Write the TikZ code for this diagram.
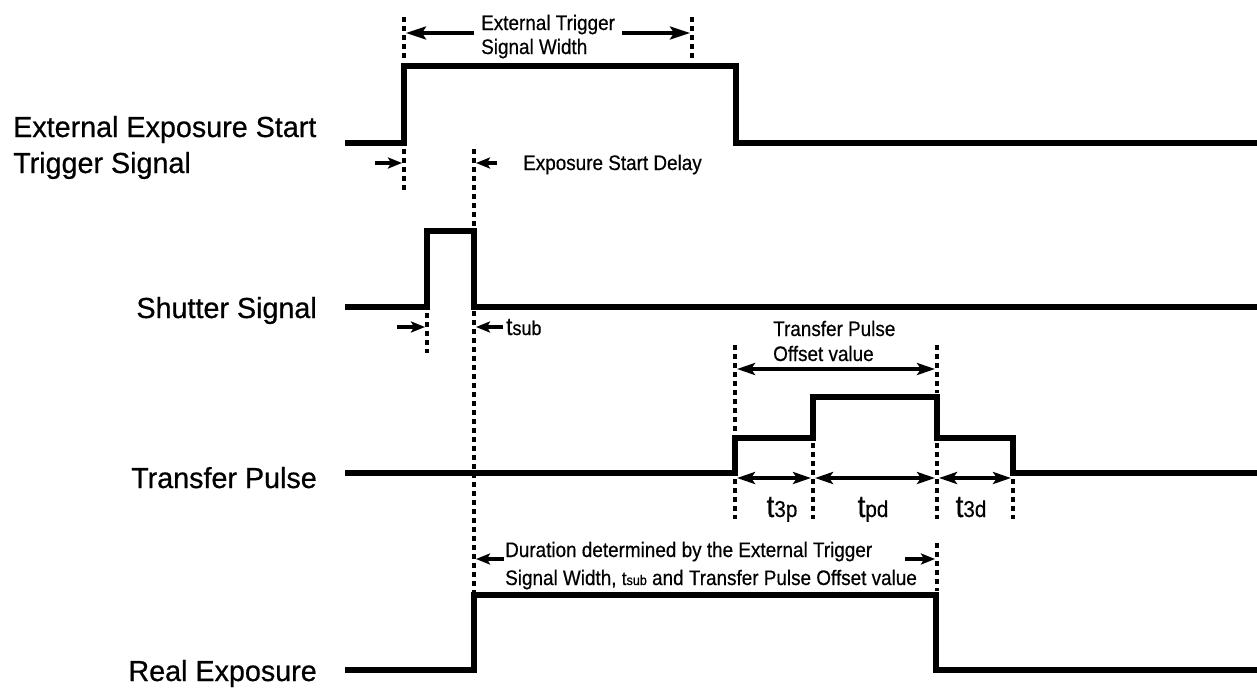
\documentclass[tikz,border=0pt]{standalone}
\usepackage{fontspec}
\setmainfont{Liberation Sans}[FakeStretch=0.9,FakeBold=0.5]
\newfontfamily\labfont{Liberation Sans}[FakeStretch=0.99,FakeBold=0.6]
\usetikzlibrary{arrows.meta}
\begin{document}
\begin{tikzpicture}[x=1pt,y=-1pt,
  sig/.style={line width=6.5pt, line join=miter, line cap=butt},
  dots/.style={line width=4pt, dash pattern=on 4.5pt off 4.5pt},
  arr/.style={line width=3.5pt, -{Stealth[length=20pt,width=13pt,inset=4pt]}},
  darr/.style={line width=3.5pt, {Stealth[length=18pt,width=12pt,inset=4pt]}-{Stealth[length=18pt,width=12pt,inset=4pt]}},
  sarr/.style={line width=3.5pt, -{Stealth[length=14pt,width=11pt,inset=3pt]}},
  big/.style={font=\labfont\fontsize{29}{36}\selectfont, inner sep=0pt},
  small/.style={font=\fontsize{21}{24}\selectfont, inner sep=0pt},
  tlab/.style={font=\fontsize{31}{31}\selectfont, inner sep=0pt},
]
\useasboundingbox (0,0) rectangle (1257,688);
% waveforms
\draw[sig] (345,143) -- (404,143) -- (404,66) -- (736,66) -- (736,143) -- (1257,143);
\draw[sig] (345,307) -- (427,307) -- (427,231) -- (474,231) -- (474,307) -- (1257,307);
\draw[sig] (345,473) -- (735,473) -- (735,438) -- (813,438) -- (813,397) -- (937,397) -- (937,438) -- (1013,438) -- (1013,473) -- (1257,473);
\draw[sig] (345,670) -- (474,670) -- (474,595) -- (936,595) -- (936,670) -- (1257,670);
% dotted guides
\draw[dots] (404,17) -- (404,62);
\draw[dots] (692,17) -- (692,62);
\draw[dots] (404,149) -- (404,193);
\draw[dots] (474,149) -- (474,592);
\draw[dots] (427,313) -- (427,353);
\draw[dots] (735,345) -- (735,434);
\draw[dots] (735,479) -- (735,519);
\draw[dots] (813,443) -- (813,519);
\draw[dots] (937,345) -- (937,393);
\draw[dots] (937,443) -- (937,519);
\draw[dots] (1013,479) -- (1013,519);
\draw[dots] (937,543) -- (937,591);
% arrows
\draw[arr] (474,33) -- (406,33);
\draw[arr] (622,33) -- (690,33);
\draw[sarr] (375,163) -- (402,163);
\draw[sarr] (497,163) -- (476,163);
\draw[sarr] (397,327) -- (425,327);
\draw[sarr] (503,327) -- (476,327);
\draw[darr] (737,369) -- (935,369);
\draw[darr] (737,478) -- (811,478);
\draw[darr] (815,478) -- (935,478);
\draw[darr] (939,478) -- (1011,478);
\draw[sarr] (504,559) -- (476,559);
\draw[sarr] (905,559) -- (935,559);
% labels
\node[big, anchor=base west] (l1a) at (13,137) {External Exposure Start};
\node[big, anchor=base west] (l1b) at (13,173) {Trigger Signal};
\node[big, anchor=base east] (l2) at (317,318) {Shutter Signal};
\node[big, anchor=base east] (l3) at (317,488) {Transfer Pulse};
\node[big, anchor=base east] (l4) at (317,681) {Real Exposure};
\node[small, anchor=base west] (w1) at (481,30) {External Trigger};
\node[small, anchor=base west] (w2) at (481,54) {Signal Width};
\node[small, anchor=base west] (esd) at (523,170) {Exposure Start Delay};
\node[small, anchor=base west] (tp1) at (773,336) {Transfer Pulse};
\node[small, anchor=base west] (tp2) at (773,361) {Offset value};
\node[small, anchor=base west] (d1) at (505,557) {Duration determined by the External Trigger};
\node[small, anchor=base west] (d2) at (505,585) {Signal Width, {\fontsize{19}{19}\selectfont t\fontsize{14}{14}\selectfont sub} and Transfer Pulse Offset value};
\node[inner sep=0pt, anchor=base west] (tsub) at (506,335) {\fontsize{25}{25}\selectfont t\fontsize{20}{20}\selectfont sub};
\node[tlab, anchor=base] (t3p) at (782,517) {t\fontsize{23}{23}\selectfont 3p};
\node[tlab, anchor=base] (tpd) at (873,517) {t\fontsize{23}{23}\selectfont pd};
\node[tlab, anchor=base] (t3d) at (971,517) {t\fontsize{23}{23}\selectfont 3d};
\end{tikzpicture}
\end{document}
